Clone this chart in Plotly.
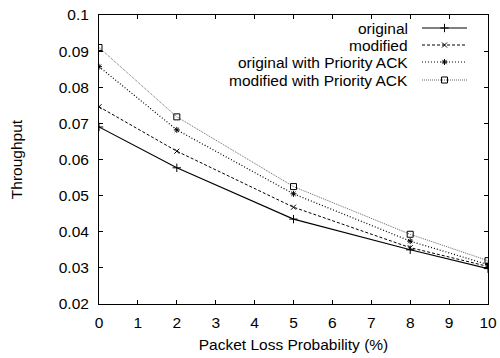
import plotly.graph_objects as go

loss = [0, 2, 5, 8, 10]
original = [0.069, 0.0577, 0.0435, 0.0350, 0.0298]
modified = [0.0746, 0.0623, 0.0468, 0.0356, 0.0304]
orig_prio = [0.0857, 0.0682, 0.0505, 0.0374, 0.0309]
mod_prio = [0.0910, 0.0718, 0.0525, 0.0393, 0.0320]

names = ["original", "modified", "original with Priority ACK", "modified with Priority ACK"]
series = [original, modified, orig_prio, mod_prio]
styles = [
    dict(color="black", dash="solid", width=1.1, symbol="cross-thin-open", msize=6),
    dict(color="black", dash="3px,2px", width=1, symbol="x-thin-open", msize=5),
    dict(color="black", dash="1px,2px", width=1.2, symbol="asterisk-open", msize=5),
    dict(color="#666666", dash="1px,1px", width=1, symbol="square-open", msize=6),
]

FS = 15.5

fig = go.Figure()
for name, ys, st in zip(names, series, styles):
    fig.add_trace(go.Scatter(
        x=loss, y=ys, mode="lines+markers", name=name,
        line=dict(color=st["color"], dash=st["dash"], width=st["width"]),
        marker=dict(symbol=st["symbol"], size=st["msize"], color="black",
                    line=dict(color="black", width=1)),
        showlegend=False,
    ))

# custom legend (text right, sample to the right) on an overlay pixel axis
leg_y = [28, 45, 62, 80]
for name, ly, st in zip(names, leg_y, styles):
    fig.add_trace(go.Scatter(
        x=[422, 467], y=[ly, ly], mode="lines", xaxis="x2", yaxis="y2",
        line=dict(color=st["color"], dash=st["dash"], width=st["width"]),
        showlegend=False, hoverinfo="skip",
    ))
    fig.add_trace(go.Scatter(
        x=[444.5], y=[ly], mode="markers", xaxis="x2", yaxis="y2",
        marker=dict(symbol=st["symbol"], size=st["msize"], color="black",
                    line=dict(color="black", width=1)),
        showlegend=False, hoverinfo="skip",
    ))
    fig.add_annotation(x=410, y=ly, xref="x2", yref="y2", text=name,
                       showarrow=False, xanchor="right", yanchor="middle",
                       font=dict(size=FS, color="black"))

axis_common = dict(
    showgrid=False, zeroline=False, showline=True, linecolor="black", linewidth=1,
    mirror="ticks", ticks="inside", ticklen=4, tickcolor="black",
    tickfont=dict(size=FS, color="black"), automargin=False,
)

fig.update_layout(
    width=500, height=358,
    margin=dict(l=99, r=12, t=15, b=54),
    paper_bgcolor="white", plot_bgcolor="white",
    font=dict(family="Liberation Sans, Arial, sans-serif", size=FS, color="black"),
    xaxis=dict(range=[0, 10], dtick=1, tick0=0, ticklabelstandoff=4,
               title=dict(text="Packet Loss Probability (%)", font=dict(size=FS), standoff=9),
               **axis_common),
    yaxis=dict(range=[0.02, 0.1], dtick=0.01, tick0=0.02, ticklabelstandoff=6,
               title=dict(text="Throughput", font=dict(size=FS), standoff=32),
               **axis_common),
    xaxis2=dict(overlaying="x", range=[99, 488], visible=False, fixedrange=True),
    yaxis2=dict(overlaying="y", range=[304, 15], visible=False, fixedrange=True),
)

fig.write_html("out.html")
